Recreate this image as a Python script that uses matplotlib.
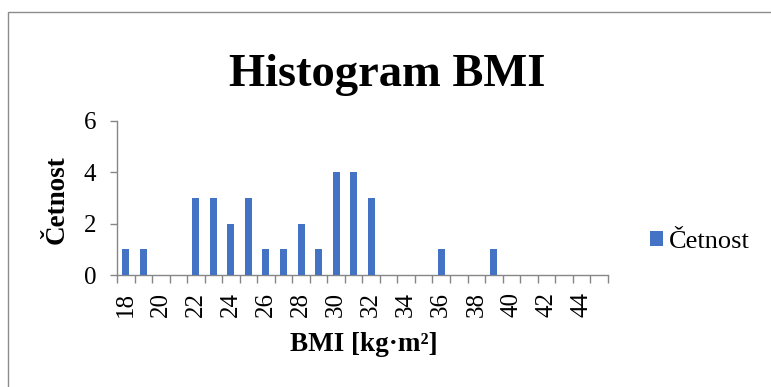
import matplotlib
matplotlib.use("Agg")
import matplotlib.pyplot as plt
from matplotlib.patches import Rectangle
import numpy as np

plt.rcParams['font.family'] = ['Liberation Serif', 'DejaVu Serif']

# BMI classes 18..45 and their counts
bmi = list(range(18, 46))
cetnost = [1, 1, 0, 0, 3, 3, 2, 3, 1, 1, 2, 1, 4, 4, 3,
           0, 0, 0, 1, 0, 0, 1, 0, 0, 0, 0, 0, 0]
yticks = [0, 2, 4, 6]

W, H = 771, 387
fig = plt.figure(figsize=(W / 100, H / 100), dpi=100)
ax = fig.add_axes([117 / W, 1 - 275 / H, (607.7 - 117) / W, (275 - 120.7) / H])

grey = '#868686'
x = np.arange(len(bmi))
bars = ax.bar(x, cetnost, width=0.4, color='#4472C4', label='Četnost', zorder=3)

ax.set_xlim(-0.5, len(bmi) - 0.5)
ax.set_ylim(0, 6)
ax.set_yticks(yticks)
ax.tick_params(axis='y', direction='out', length=5, width=1, color=grey,
               labelsize=18, pad=10)

# tick marks on category borders, labels on every other category
ax.set_xticks(np.arange(-0.5, len(bmi), 1))
ax.set_xticklabels([])
ax.tick_params(axis='x', which='major', direction='out', length=5.5, width=1, color=grey)
ax.set_xticks(x[::2], minor=True)
ax.set_xticklabels([str(b) for b in bmi[::2]], minor=True, rotation=90)
ax.tick_params(axis='x', which='minor', length=0, labelsize=18, pad=12)

for s in ['top', 'right']:
    ax.spines[s].set_visible(False)
for s in ['left', 'bottom']:
    ax.spines[s].set_color(grey)
    ax.spines[s].set_linewidth(1)

fig.text(387.5 / W, 1 - 86 / H, 'Histogram BMI', ha='center', va='baseline',
         fontsize=33.5, fontweight='bold')
fig.text(57 / W, 1 - 200 / H, 'Četnost', ha='center', va='center', rotation=90,
         fontsize=19.5, fontweight='bold')
fig.text(364 / W, 1 - 351 / H, 'BMI [kg·m²]', ha='center', va='baseline',
         fontsize=19.5, fontweight='bold')

fig.legend(handles=[bars], loc='center left', bbox_to_anchor=(650 / W, 1 - 242 / H),
           frameon=False, fontsize=19, handlelength=0.5, handleheight=0.5,
           handletextpad=0.2, borderpad=0, borderaxespad=0)

# chart area border (right and bottom edges fall outside the image)
fig.patches.append(Rectangle((8 / W, -0.1), 1.2, 1 - 12 / H + 0.1,
                             transform=fig.transFigure, fill=False,
                             edgecolor='#8c8c8c', linewidth=1))

fig.savefig('out.png', dpi=100)
